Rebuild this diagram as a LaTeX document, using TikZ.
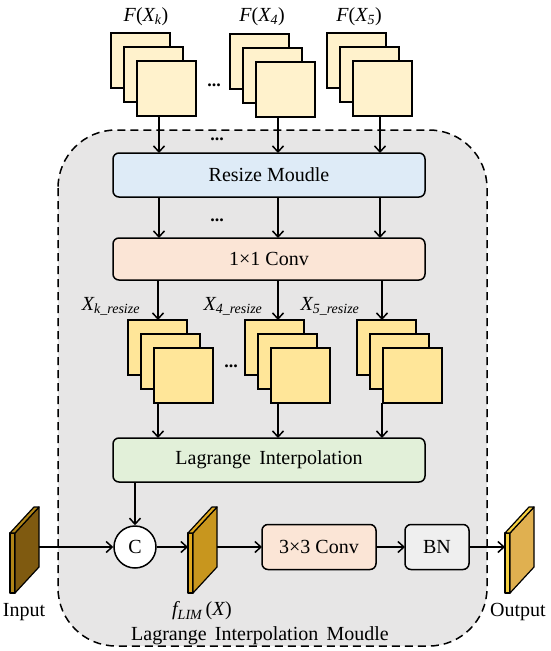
\documentclass[tikz,border=0pt]{standalone}
\usepackage{fontspec}
\setmainfont{Liberation Serif}
\usetikzlibrary{arrows.meta,calc}
\definecolor{bgreg}{HTML}{E7E6E6}
\definecolor{sqtop}{HTML}{FFF2CC}
\definecolor{sqmid}{HTML}{FFE699}
\definecolor{resizec}{HTML}{DEEBF7}
\definecolor{convc}{HTML}{FBE5D6}
\definecolor{lagc}{HTML}{E2F0D9}
\definecolor{bnc}{HTML}{EFEFEF}
\definecolor{inside}{HTML}{7F5A10}
\definecolor{infront}{HTML}{B08518}
\definecolor{fside}{HTML}{C8961E}
\definecolor{ffront}{HTML}{DFA820}
\definecolor{oside}{HTML}{E0B050}
\definecolor{ofront}{HTML}{F5D040}
\tikzset{
  sq/.style={draw=black, line width=1.5pt, minimum width=59pt, minimum height=55pt, anchor=north west, inner sep=0pt, outer sep=0pt},
  blk/.style={draw=black, line width=1.5pt, rounded corners=6pt, inner sep=0pt, outer sep=0pt, font=\fontsize{20}{22}\selectfont},
  arr/.style={line width=1.5pt, -{Straight Barb[length=6pt,width=11pt]}},
  lbl/.style={inner sep=0pt, font=\fontsize{20}{22}\selectfont},
  mlbl/.style={inner sep=0pt, font=\fontsize{20}{22}\selectfont\itshape},
  dots/.style={inner sep=0pt, font=\fontsize{18}{18}\selectfont\bfseries},
  slab/.style={draw=black, line width=1.2pt, line join=round}
}
\newcommand{\mystack}[4]{%
  \node[sq, fill=#4] (#1a) at (#2,#3) {};
  \node[sq, fill=#4] (#1b) at (#2+13,#3+14) {};
  \node[sq, fill=#4] (#1) at (#2+26,#3+28) {};
}
\newcommand{\myslab}[4]{%
  \draw[slab, fill=#4] (#1,533) rectangle (#1+5,593);
  \draw[slab, fill=#2] (#1+5,533) -- (#1+29,507) -- (#1+29,567) -- (#1+5,593) -- cycle;
  \draw[slab, fill=#3] (#1,533) -- (#1+24,507) -- (#1+29,507) -- (#1+5,533) -- cycle;
}
\newcommand{\sbs}[1]{\textsubscript{#1}}
\newcommand{\lp}{\textup{(}}
\newcommand{\rp}{\textup{)}}
\begin{document}
\begin{tikzpicture}[x=1pt,y=-1pt]
\useasboundingbox (0,0) rectangle (550,651);
% region
\draw[fill=bgreg, dash pattern=on 8pt off 5pt, line width=1.5pt, rounded corners=58pt] (58,130) rectangle (487,646);
\node[lbl] (modlbl) at (260,636) {Lagrange\, Interpolation\, Moudle};

% column coordinates
\coordinate (colA) at (159,0);
\coordinate (colB) at (278,0);
\coordinate (colC) at (380,0);

% top stacks
\mystack{ta}{111}{33}{sqtop}
\mystack{tb}{230}{34}{sqtop}
\mystack{tc}{327}{33}{sqtop}
\node[mlbl] (lfa) at (146,17) {F\lp X\sbs{k}\rp};
\node[mlbl] (lfb) at (262,17) {F\lp X\sbs{4}\rp};
\node[mlbl] (lfc) at (359,17) {F\lp X\sbs{5}\rp};
\node[dots] (d1) at (214,85) {...};

% blocks
\node[blk, fill=resizec, minimum width=312pt, minimum height=44pt] (resize) at (269,175) {Resize Moudle};
\node[blk, fill=convc, minimum width=312pt, minimum height=42pt] (conv1) at (269,259) {1×1 Conv};
\node[blk, fill=lagc, minimum width=312pt, minimum height=44pt] (lag) at (269,460) {Lagrange\, Interpolation};

\draw[arr] (colA |- ta.south) -- (colA |- resize.north);
\draw[arr] (colB |- tb.south) -- (colB |- resize.north);
\draw[arr] (colC |- tc.south) -- (colC |- resize.north);
\node[dots] (d2) at (217,139) {...};

\draw[arr] (colA |- resize.south) -- (colA |- conv1.north);
\draw[arr] (colB |- resize.south) -- (colB |- conv1.north);
\draw[arr] (colC |- resize.south) -- (colC |- conv1.north);
\node[dots] (d3) at (217,220) {...};

% middle stacks
\mystack{ma}{128}{320}{sqmid}
\mystack{mb}{245}{320}{sqmid}
\mystack{mc}{357}{320}{sqmid}
\node[dots] (d4) at (231,366) {...};
\node[mlbl] (lxa) at (111,306) {X\sbs{k\_resize}};
\node[mlbl] (lxb) at (233,306) {X\sbs{4\_resize}};
\node[mlbl] (lxc) at (330,306) {X\sbs{5\_resize}};

\coordinate (colA2) at (158,0);
\coordinate (colC2) at (382,0);
\draw[arr] (colA2 |- conv1.south) -- (colA2 |- maa.north);
\draw[arr] (colB |- conv1.south) -- (colB |- mba.north);
\draw[arr] (colC2 |- conv1.south) -- (colC2 |- mca.north);
\draw[arr] (colA2 |- ma.south) -- (colA2 |- lag.north);
\draw[arr] (colB |- mb.south) -- (colB |- lag.north);
\draw[arr] (colC2 |- mc.south) -- (colC2 |- lag.north);

% bottom row
\node[circle, draw=black, fill=white, line width=1.5pt, minimum size=42pt, inner sep=0pt, font=\fontsize{20}{22}\selectfont] (cat) at (135,547) {C};
\node[blk, fill=convc, minimum width=114pt, minimum height=45pt] (conv3) at (319,547) {3×3 Conv};
\node[blk, fill=bnc, minimum width=64pt, minimum height=45pt] (bn) at (437,547) {BN};

\myslab{10}{inside}{infront}{infront}
\myslab{188}{fside}{ffront}{ffront}
\myslab{505}{oside}{ofront}{ofront}
\coordinate (inR) at (39,547);
\coordinate (fL) at (188,547);
\coordinate (fR) at (217,547);
\coordinate (oL) at (505,547);

\node[lbl] (linput) at (24,612) {Input};
\node[mlbl] (lflim) at (202,611) {f\sbs{LIM}\,\lp X\rp};
\node[lbl] (loutput) at (518,612) {Output};

\coordinate (lagC) at (135,0);
\draw[arr] (lagC |- lag.south) -- (cat.north);
\draw[arr] (inR) -- (cat.west);
\draw[arr] (cat.east) -- (fL);
\draw[arr] (fR) -- (conv3.west);
\draw[arr] (conv3.east) -- (bn.west);
\draw[arr] (bn.east) -- (oL);
\end{tikzpicture}
\end{document}
